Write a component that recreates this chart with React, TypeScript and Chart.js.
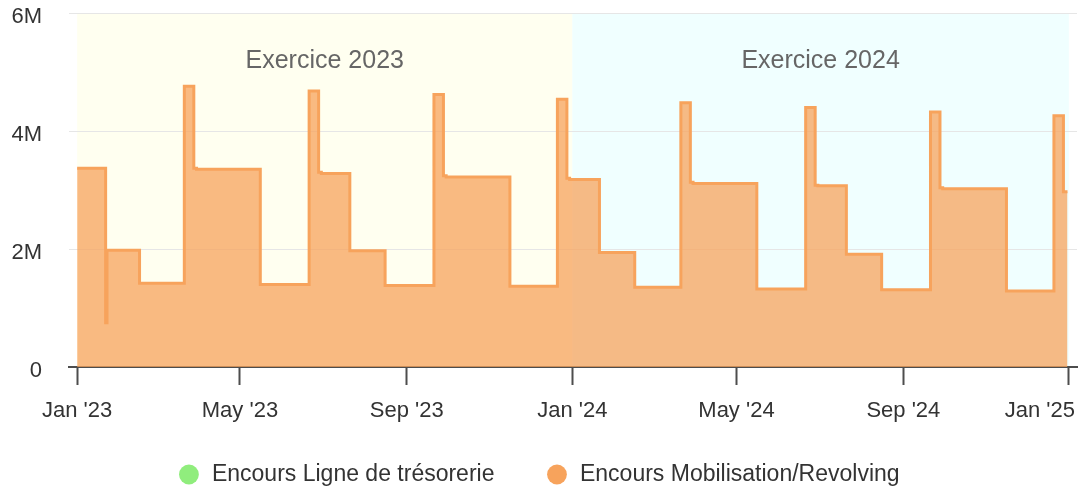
import React, { useEffect, useRef } from 'react';
import { Chart, registerables } from 'chart.js';

Chart.register(...registerables);

// ---- data ----
const seriesNames = ['Encours Ligne de trésorerie', 'Encours Mobilisation/Revolving'];
const seriesColors = ['#90ed7d', '#f7a35c'];

const tresorerieDates: string[] = [];
const tresorerieValues: number[] = [];

const revolvingDates = [
  '2023-01-01', '2023-01-22', '2023-01-23', '2023-02-16', '2023-03-21', '2023-03-28', '2023-03-30',
  '2023-05-16', '2023-06-21', '2023-06-28', '2023-06-30', '2023-07-21', '2023-08-16',
  '2023-09-21', '2023-09-28', '2023-09-30', '2023-11-16', '2023-12-21', '2023-12-28', '2023-12-30',
  '2024-01-21', '2024-02-16', '2024-03-21', '2024-03-28', '2024-03-30',
  '2024-05-16', '2024-06-21', '2024-06-28', '2024-06-30', '2024-07-21', '2024-08-16',
  '2024-09-21', '2024-09-28', '2024-09-30', '2024-11-16', '2024-12-21', '2024-12-28', '2024-12-31',
];
const revolvingValues = [
  3370000, 750000, 1980000, 1420000, 4760000, 3370000, 3350000,
  1400000, 4680000, 3300000, 3280000, 1970000, 1380000,
  4620000, 3240000, 3220000, 1370000, 4540000, 3200000, 3180000,
  1940000, 1350000, 4480000, 3130000, 3110000,
  1320000, 4400000, 3080000, 3070000, 1910000, 1310000,
  4320000, 3040000, 3020000, 1290000, 4260000, 2970000, 2970000,
];

const xTickDates = ['2023-01-01', '2023-05-01', '2023-09-01', '2024-01-01', '2024-05-01', '2024-09-01', '2025-01-01'];
const xTickLabels = ["Jan '23", "May '23", "Sep '23", "Jan '24", "May '24", "Sep '24", "Jan '25"];
const yTickValues = [0, 2000000, 4000000, 6000000];
const yTickLabels = ['0', '2M', '4M', '6M'];

const bandStarts = ['2023-01-01', '2024-01-01'];
const bandEnds = ['2024-01-01', '2025-01-01'];
const bandLabels = ['Exercice 2023', 'Exercice 2024'];
const bandColors = ['#fffff0', '#f0ffff'];

const xMinDate = '2022-12-26';
const xMaxDate = '2025-01-07';

const ts = (d: string) => {
  const [y, m, dd] = d.split('-').map(Number);
  return Date.UTC(y, m - 1, dd);
};

const FONT = '"Liberation Sans", Arial, Helvetica, sans-serif';

const bandPlugin = {
  id: 'bands',
  beforeDraw(chart: any) {
    const { ctx, chartArea } = chart;
    const xs = chart.scales.x;
    ctx.save();
    bandStarts.forEach((s, i) => {
      const x0 = xs.getPixelForValue(ts(s));
      const x1 = xs.getPixelForValue(ts(bandEnds[i]));
      ctx.fillStyle = bandColors[i];
      ctx.fillRect(x0, chartArea.top, x1 - x0, chartArea.bottom - chartArea.top);
      ctx.fillStyle = '#666666';
      ctx.font = `25px ${FONT}`;
      ctx.textAlign = 'center';
      ctx.textBaseline = 'middle';
      ctx.fillText(bandLabels[i], (x0 + x1) / 2, chartArea.top + 48);
    });
    ctx.restore();
    // let the x labels overflow their box (they sit beside the legend)
    xs.bottom = xs.top + 62;
    // keep last x label inside the canvas
    const items = xs.getLabelItems(chartArea);
    if (items && items.length) {
      const last = items[items.length - 1];
      last.options.textAlign = 'right';
      last.options.translation = [chart.width - 3, last.options.translation[1]];
    }
  },
};

export default function App() {
  const ref = useRef<HTMLCanvasElement | null>(null);
  useEffect(() => {
    document.body.style.margin = '0';
    if (!ref.current) return;
    const chart = new Chart(ref.current, {
      type: 'line',
      data: {
        datasets: [
          {
            label: seriesNames[0],
            data: tresorerieDates.map((d, i) => ({ x: ts(d), y: tresorerieValues[i] })),
            borderColor: seriesColors[0],
            backgroundColor: seriesColors[0],
            pointRadius: 0,
          },
          {
            label: seriesNames[1],
            data: revolvingDates.map((d, i) => ({ x: ts(d), y: revolvingValues[i] })),
            borderColor: seriesColors[1],
            backgroundColor: 'rgba(247,163,92,0.75)',
            borderWidth: 3,
            fill: 'origin',
            stepped: true,
            pointRadius: 0,
            tension: 0,
          },
        ],
      },
      options: {
        animation: false,
        responsive: true,
        maintainAspectRatio: false,
        layout: { padding: { top: 13, right: 1, left: 0, bottom: -3 } },
        font: { family: FONT },
        plugins: {
          tooltip: { enabled: false },
          legend: {
            position: 'bottom',
            labels: {
              usePointStyle: true,
              boxWidth: 23,
              boxHeight: 14,
              padding: 51,
              color: '#333333',
              font: { size: 23, family: FONT },
              generateLabels: (c: any) =>
                Chart.defaults.plugins.legend.labels.generateLabels(c).map((it: any, i: number) => ({
                  ...it,
                  fillStyle: seriesColors[i],
                  strokeStyle: seriesColors[i],
                  lineWidth: 0,
                  pointStyle: 'circle',
                })),
            },
          },
        },
        scales: {
          x: {
            type: 'linear',
            z: 1,
            min: ts(xMinDate),
            max: ts(xMaxDate),
            afterBuildTicks: (s: any) => {
              s.ticks = xTickDates.map((d) => ({ value: ts(d) }));
            },
            afterFit: (s: any) => {
              s.height = 45;
              s.paddingLeft = 0;
              s.paddingRight = 0;
            },
            grid: {
              drawOnChartArea: false,
              drawTicks: true,
              tickLength: 18,
              tickColor: '#4d4d4d',
              tickWidth: 2,
            },
            border: { display: true, color: '#4d4d4d', width: 2 },
            ticks: {
              autoSkip: false,
              maxRotation: 0,
              padding: 13,
              color: '#333333',
              font: { size: 22, family: FONT },
              callback: (v: any, i: number) => xTickLabels[i],
            },
          },
          y: {
            type: 'linear',
            min: 0,
            max: 6000000,
            afterBuildTicks: (s: any) => {
              s.ticks = yTickValues.map((v) => ({ value: v }));
            },
            afterFit: (s: any) => {
              s.width = 69;
              s.paddingTop = 0;
              s.paddingBottom = 0;
            },
            grid: { color: '#e6e6e6', lineWidth: 1, drawTicks: false },
            border: { display: false },
            ticks: {
              padding: 27,
              labelOffset: 4,
              color: '#333333',
              font: { size: 22, family: FONT },
              callback: (v: any, i: number) => yTickLabels[i],
            },
          },
        },
      },
      plugins: [bandPlugin],
    });
    return () => chart.destroy();
  }, []);
  return (
    <div style={{ width: 1078, height: 493, position: 'relative' }}>
      <canvas ref={ref} />
    </div>
  );
}
